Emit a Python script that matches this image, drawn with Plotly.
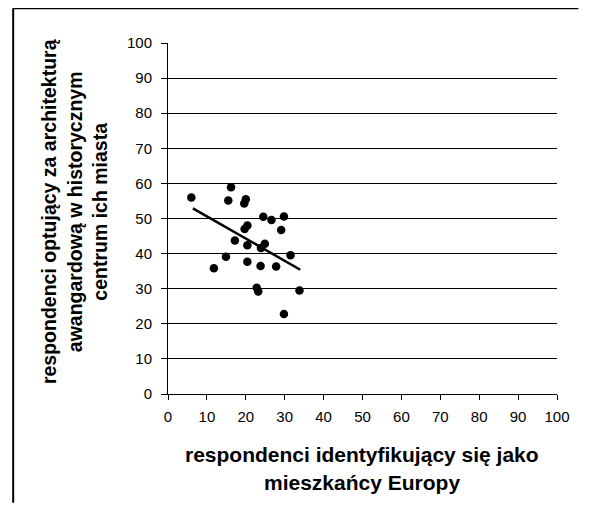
import plotly.graph_objects as go

# Data
europe_pct = [6.0, 16.2, 15.5, 20.0, 19.6, 24.5, 26.6, 29.8, 29.1, 20.4, 19.7, 17.2, 20.4,
              24.9, 23.9, 14.9, 31.5, 11.8, 20.4, 23.8, 27.8, 22.8, 23.2, 33.8, 29.8]
avantgarde_pct = [56.0, 58.9, 55.1, 55.5, 54.3, 50.5, 49.6, 50.6, 46.7, 48.0, 47.0, 43.7, 42.4,
                  42.8, 41.6, 39.1, 39.5, 35.8, 37.7, 36.5, 36.3, 30.3, 29.2, 29.5, 22.8]
trend_x = [6.4, 34.0]
trend_y = [52.9, 35.4]
tick_vals = [0, 10, 20, 30, 40, 50, 60, 70, 80, 90, 100]

x_title_lines = ["respondenci identyfikujący się jako", "mieszkańcy Europy"]
y_title = "respondenci optujący za architekturą<br>awangardową w historycznym<br>centrum ich miasta"

FONT = "Liberation Sans, Arial, sans-serif"

fig = go.Figure()
fig.add_trace(go.Scatter(x=europe_pct, y=avantgarde_pct, mode="markers",
                         marker=dict(color="black", size=8.5), showlegend=False))
fig.add_trace(go.Scatter(x=trend_x, y=trend_y, mode="lines",
                         line=dict(color="black", width=2.5), showlegend=False))

# page body has an 8px default margin; figure sized so the page does not overflow
fig.update_layout(
    width=574, height=497,
    margin=dict(l=160, r=22, t=35, b=111),
    paper_bgcolor="white", plot_bgcolor="white",
    font=dict(family=FONT, color="black", size=15),
    xaxis=dict(range=[0, 100], tickvals=tick_vals, showgrid=False, zeroline=False,
               showline=True, linecolor="black", linewidth=1,
               ticks="outside", ticklen=5, tickcolor="black", tickwidth=1,
               tickfont=dict(size=15, family=FONT, color="black"), ticklabelstandoff=4),
    yaxis=dict(range=[0, 100], tickvals=tick_vals, showgrid=True, gridcolor="black", gridwidth=1,
               zeroline=False, showline=True, linecolor="black", linewidth=1,
               ticks="outside", ticklen=6, tickcolor="black", tickwidth=1,
               tickfont=dict(size=15, family=FONT, color="black"), ticklabelstandoff=6),
)

# outer frame: only top and left edges are visible in the reference
fig.add_shape(type="line", xref="paper", yref="paper", x0=-0.398, y0=1.099, x1=1.055, y1=1.099,
              line=dict(color="black", width=2), layer="above")
fig.add_shape(type="line", xref="paper", yref="paper", x0=-0.398, y0=1.099, x1=-0.398, y1=-0.31,
              line=dict(color="black", width=2), layer="above")

fig.add_annotation(text="<b>" + y_title + "</b>", xref="paper", yref="paper",
                   x=-0.240, y=0.52, xanchor="center", yanchor="middle",
                   textangle=-90, showarrow=False,
                   font=dict(family=FONT, size=19.5, color="black"))
fig.add_annotation(text="<b>" + x_title_lines[0] + "</b>", xref="paper", yref="paper",
                   x=0.498, y=-0.172, xanchor="center", yanchor="middle", showarrow=False,
                   font=dict(family=FONT, size=21, color="black"))
fig.add_annotation(text="<b>" + x_title_lines[1] + "</b>", xref="paper", yref="paper",
                   x=0.498, y=-0.252, xanchor="center", yanchor="middle", showarrow=False,
                   font=dict(family=FONT, size=21, color="black"))

fig.write_html("out.html")
